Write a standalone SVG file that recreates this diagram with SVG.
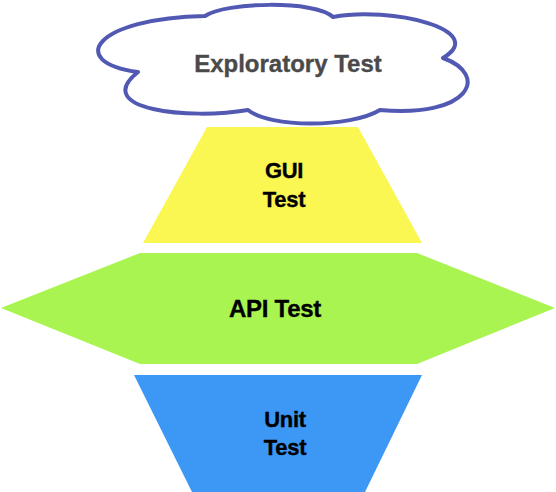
<svg xmlns="http://www.w3.org/2000/svg" width="556" height="492" viewBox="0 0 556 492">
<style>
.lbl{font-family:"Liberation Sans",Arial,sans-serif;font-weight:bold;text-anchor:middle;fill:#000;stroke:#000;stroke-width:0.35;letter-spacing:-0.3px}
</style>
<rect width="556" height="492" fill="#fff"/>
<g id="exploratory">
<path d="M205,16 C225,2 315,0 333,17 C390,6 490,30 443,58 C490,75 470,118 380,110 C350,128 270,128 248,110 C190,120 90,110 138,72 C65,62 95,18 205,16 Z" fill="#fff" stroke="#5159b3" stroke-width="4" stroke-linejoin="round"/>
<text class="lbl" x="288" y="72" font-size="24" style="fill:#4a4a4a;stroke:#4a4a4a;letter-spacing:0">Exploratory Test</text>
</g>
<g id="gui">
<polygon points="207,127 358,127 422,243 143,243" fill="#faf652"/>
<text class="lbl" x="284" y="178" font-size="22">GUI</text>
<text class="lbl" x="284" y="207" font-size="22">Test</text>
</g>
<g id="api">
<polygon points="1,308 140,253 417,253 555,308 417,364 140,364" fill="#aaf452"/>
<text class="lbl" x="275" y="317" font-size="24">API Test</text>
</g>
<g id="unit">
<polygon points="134,375 422,375 365,492 192,492" fill="#3c97f5"/>
<text class="lbl" x="285" y="427" font-size="22">Unit</text>
<text class="lbl" x="285" y="455" font-size="22">Test</text>
</g>
<g id="connectors"></g>
</svg>
